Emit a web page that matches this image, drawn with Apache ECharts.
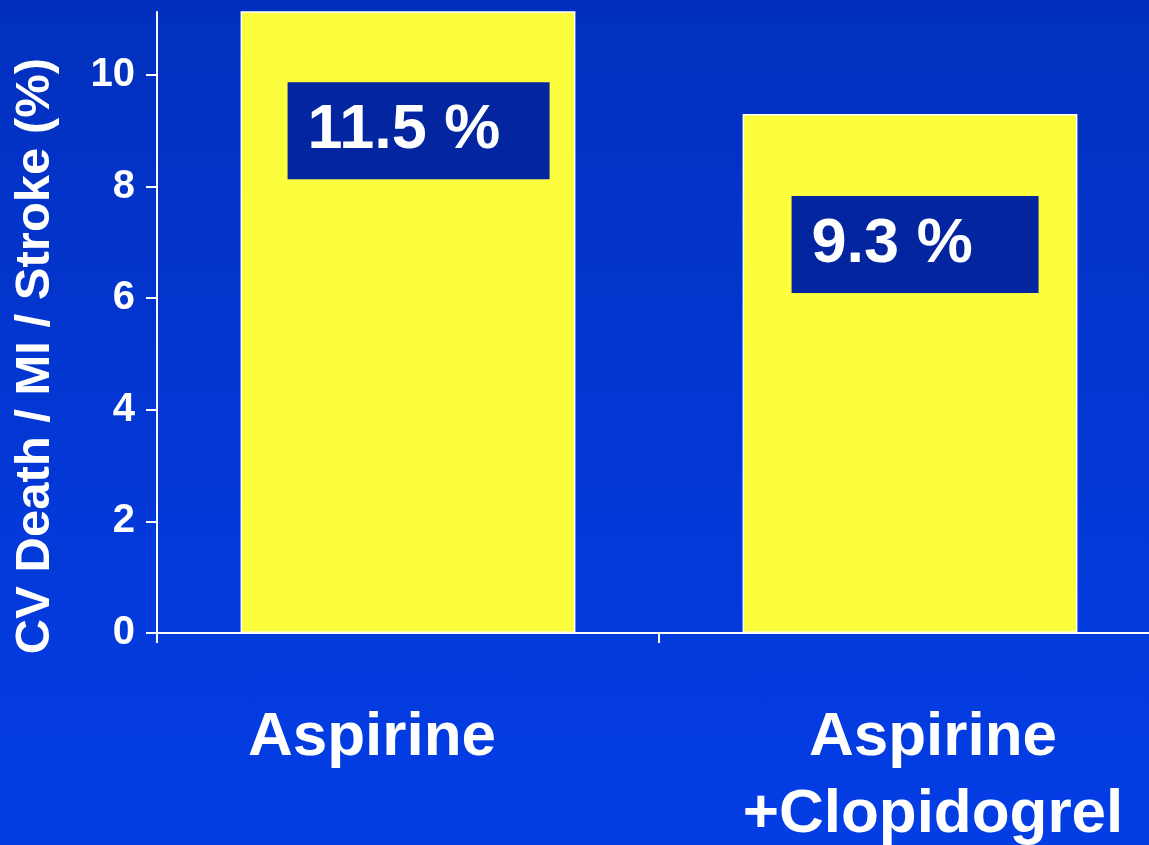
<!DOCTYPE html>
<html>
<head>
<meta charset="utf-8">
<script src="https://cdn.jsdelivr.net/npm/echarts@6/dist/echarts.min.js"></script>
<style>
  html, body { margin: 0; padding: 0; }
  #chart {
    width: 1149px;
    height: 845px;
    background: linear-gradient(180deg, #0230bd 0%, #0338d6 55%, #033de4 100%);
  }
</style>
</head>
<body>
<div id="chart"></div>
<script>
// values
const categories = ['Aspirine', 'Aspirine\n+Clopidogrel'];
const eventRates = [11.5, 9.3];
const yTicks = [0, 2, 4, 6, 8, 10];
const yTitle = 'CV Death / MI / Stroke (%)';

const chartDom = document.getElementById('chart');
const myChart = echarts.init(chartDom);

// small per-category tweaks so things sit where the slide has them
const catLabelPad = [[0, 72, 0, 0], [0, 0, 0, 46]];
const boxPos = [[47, 71], [49, 82]];
const boxWidth = [242, 227];

let catData = [], barData = [];
for (let i = 0; i < categories.length; i++) {
  catData.push({
    value: categories[i],
    textStyle: { padding: catLabelPad[i] }
  });
  barData.push({
    value: eventRates[i],
    label: { position: boxPos[i], width: boxWidth[i] }
  });
}

const option = {
  backgroundColor: 'transparent',
  animation: false,
  textStyle: { fontFamily: 'Liberation Sans, Arial, sans-serif' },
  grid: {
    left: 157,
    top: 12,
    bottom: 212,
    width: 1004,
    containLabel: false,
    outerBoundsMode: 'none'
  },
  xAxis: {
    type: 'category',
    data: catData,
    axisLine: { lineStyle: { color: '#ffffff', width: 2 } },
    axisTick: { show: true, length: 10, lineStyle: { color: '#ffffff', width: 2 } },
    axisLabel: {
      color: '#ffffff',
      fontSize: 62,
      fontWeight: 'bold',
      lineHeight: 77,
      margin: 66,
      interval: 0
    }
  },
  yAxis: {
    type: 'value',
    min: 0,
    max: 11.13,
    interval: 2,
    splitLine: { show: false },
    axisLine: { show: true, lineStyle: { color: '#ffffff', width: 2 } },
    axisTick: {
      show: true,
      length: 11,
      customValues: yTicks,
      lineStyle: { color: '#ffffff', width: 2 }
    },
    axisLabel: {
      color: '#ffffff',
      fontSize: 40,
      fontWeight: 'bold',
      margin: 22,
      customValues: yTicks
    }
  },
  graphic: [{
    type: 'text',
    x: 35,
    y: 356,
    rotation: Math.PI / 2,
    style: {
      text: yTitle,
      fill: '#ffffff',
      font: 'bold 49px "Liberation Sans", Arial, sans-serif',
      align: 'center',
      verticalAlign: 'middle'
    }
  }],
  series: [{
    type: 'bar',
    data: barData,
    barWidth: '66.7%',
    itemStyle: {
      color: '#fcfd3c',
      borderColor: '#ffffff',
      borderWidth: 1.5
    },
    label: {
      show: true,
      formatter: '{c} %',
      color: '#ffffff',
      fontSize: 63,
      fontWeight: 'bold',
      backgroundColor: '#0326a0',
      padding: [0, 0, 0, 20],
      height: 97,
      lineHeight: 97,
      align: 'left',
      verticalAlign: 'top'
    }
  }]
};
myChart.setOption(option);
</script>
</body>
</html>
